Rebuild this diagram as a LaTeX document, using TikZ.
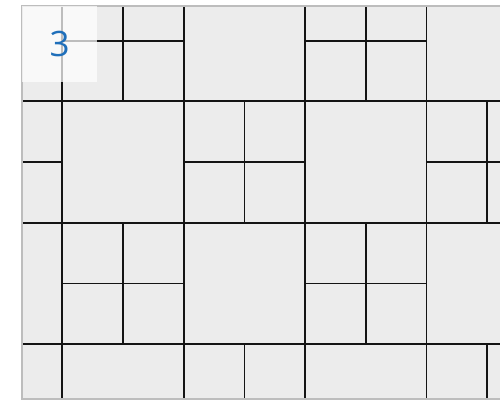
\documentclass[tikz,border=0pt]{standalone}
\usepackage{fontspec}
\setmainfont{Open Sans}
\definecolor{tilebg}{HTML}{ECECEC}
\definecolor{framegray}{HTML}{BDBDBD}
\definecolor{labelblue}{HTML}{1F6FBA}
\tikzset{
  tileline/.style={line width=1.8pt, color=black!92, line cap=rect},
  frameline/.style={line width=1.6pt, color=framegray},
  labelbox/.style={fill=white, fill opacity=0.72, text opacity=1, inner sep=0pt, minimum width=75pt, minimum height=76pt, anchor=north west}
}
\begin{document}
\begin{tikzpicture}[x=1pt,y=-1pt]
\useasboundingbox (0,0) rectangle (500,401);
\fill[tilebg] (22,6) rectangle (500,399);
\begin{scope}
  \clip (22,6) rectangle (500,399);
  % block boundaries
  \foreach \x in {62.3,183.7,305.1,426.5}
    \draw[tileline] (\x,0) -- (\x,410);
  \foreach \y in {101.4,222.8,344.2}
    \draw[tileline] (0,\y) -- (510,\y);
  % blocks of four small squares (centres)
  \foreach \cx/\cy in {123/40.7, 365.8/40.7, 1.6/162.1, 244.4/162.1, 487.2/162.1, 123/283.5, 365.8/283.5, 1.6/404.9, 244.4/404.9, 487.2/404.9}
  {
    \draw[tileline] (\cx-60.7,\cy) -- (\cx+60.7,\cy);
    \draw[tileline] (\cx,\cy-60.7) -- (\cx,\cy+60.7);
  }
\end{scope}
\draw[frameline] (500,6) -- (22,6) -- (22,399) -- (500,399);
\node[labelbox] (lbl) at (22,6) {};
\node[text=labelblue, font=\fontsize{35}{40}\selectfont, anchor=center] (num) at (lbl.center) {3};
\end{tikzpicture}
\end{document}
